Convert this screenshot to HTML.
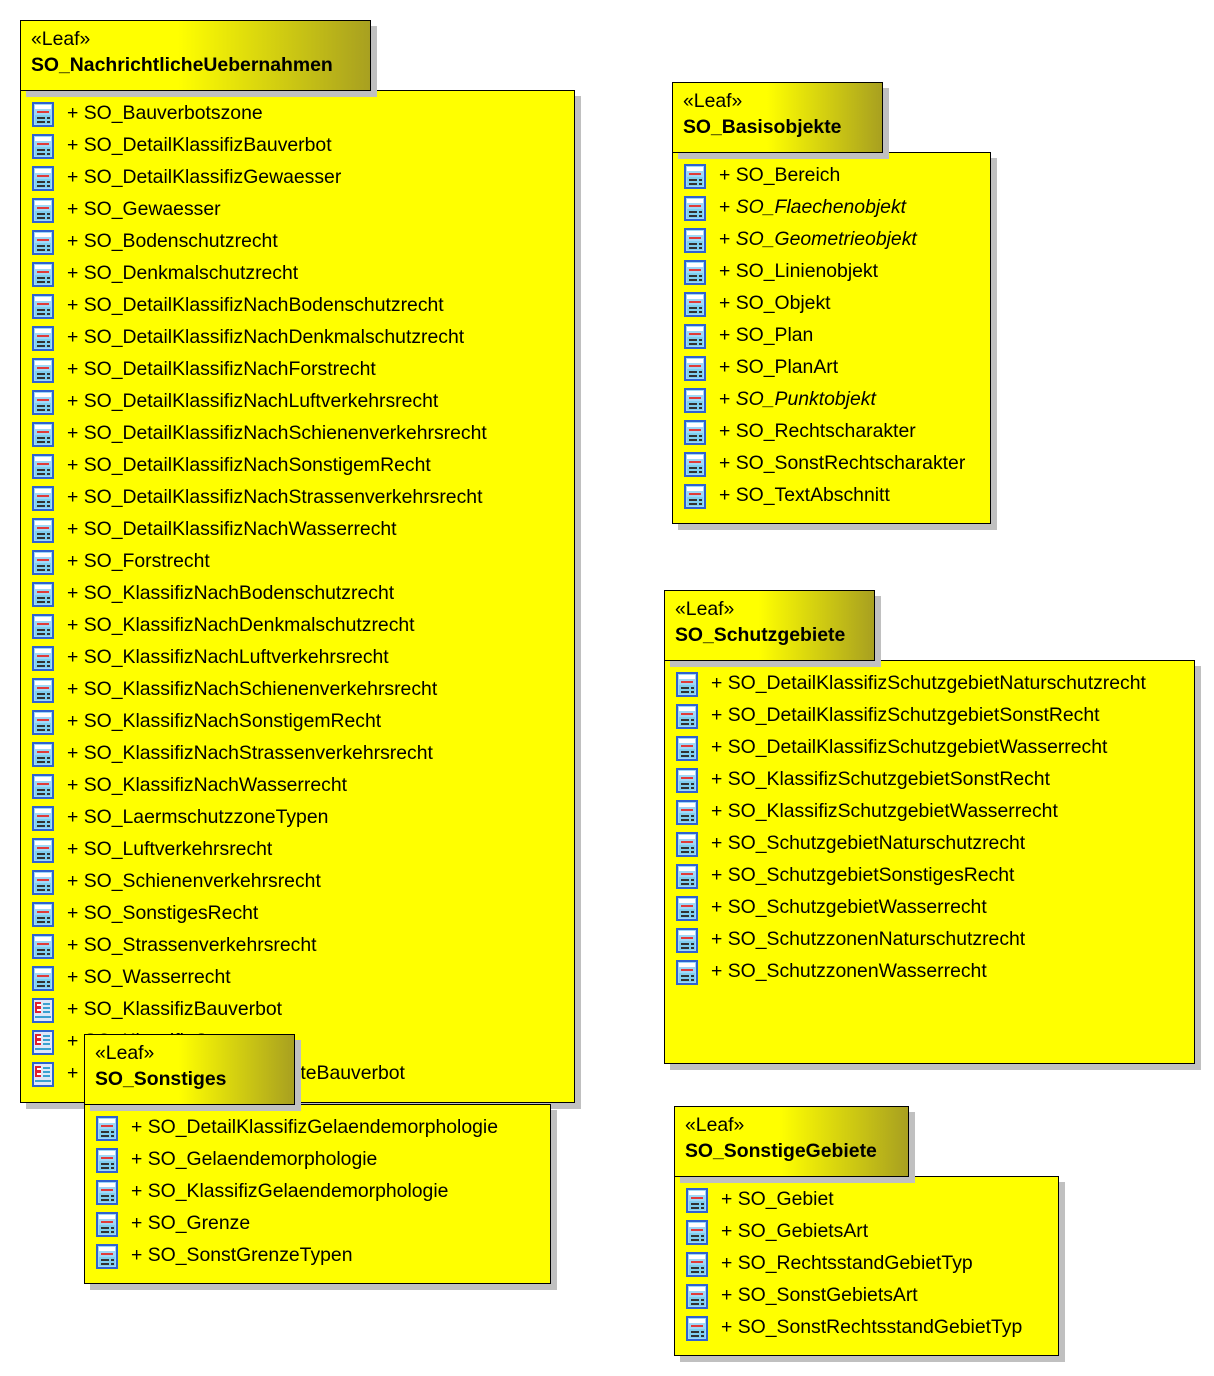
<!DOCTYPE html>
<html><head><meta charset="utf-8">
<style>
body{margin:0;width:1214px;height:1376px;background:#fff;position:relative;overflow:hidden;font-family:"Liberation Sans",Arial,sans-serif;}
.tab,.bd{position:absolute;box-sizing:border-box;border:1px solid #000;box-shadow:6px 6px 0 #c0c0c0;}
.tab{height:71px;background:linear-gradient(to right,#ffff00 0%,#ffff00 45%,#a8a020 100%);}
.bd{background:#ffff00;}
.st{position:absolute;left:10px;top:7px;font-size:19.4px;}
.nm{position:absolute;left:10px;top:33px;font-size:19.4px;font-weight:bold;}
.r{position:absolute;height:32px;left:0;right:0;font-size:19.4px;line-height:32px;white-space:nowrap;}
.r svg{position:absolute;left:11px;top:5px;}
.r span{position:absolute;left:46px;top:0;}
i{font-style:italic;}
</style></head><body>
<svg width="0" height="0" style="position:absolute">
<defs>
<g id="ic"><rect x="0" y="0" width="22" height="25" fill="#2f62d0"/><rect x="2" y="2" width="18" height="21" fill="#9fd8f7"/><rect x="3" y="3" width="16" height="4" fill="#fff"/><rect x="5" y="9" width="12" height="2" fill="#e03a3a"/><rect x="3" y="13" width="16" height="9" fill="#7fd0f0"/><rect x="5" y="15" width="8" height="2" fill="#333"/><rect x="15" y="15" width="3" height="2" fill="#333"/><rect x="5" y="19" width="8" height="2" fill="#333"/><rect x="15" y="19" width="3" height="2" fill="#333"/></g>
<g id="ie"><rect x="0" y="0" width="22" height="25" fill="#2f62d0"/><rect x="2" y="2" width="18" height="21" fill="#dfe8f7"/><rect x="3" y="4" width="6" height="11" fill="#e02030"/><rect x="5" y="6" width="4" height="2" fill="#fff"/><rect x="5" y="11" width="4" height="2" fill="#fff"/><rect x="11" y="5" width="7" height="2" fill="#3aa0d0"/><rect x="11" y="9" width="7" height="2" fill="#3aa0d0"/><rect x="11" y="13" width="7" height="2" fill="#3aa0d0"/><rect x="3" y="18" width="16" height="2" fill="#3aa0d0"/></g>
</defs></svg>

<!-- Package 1 -->
<div class="bd" style="left:20px;top:90px;width:555px;height:1013px;">
<div class="r" style="top:6px"><svg width="22" height="25"><use href="#ic"/></svg><span>+ SO_Bauverbotszone</span></div>
<div class="r" style="top:38px"><svg width="22" height="25"><use href="#ic"/></svg><span>+ SO_DetailKlassifizBauverbot</span></div>
<div class="r" style="top:70px"><svg width="22" height="25"><use href="#ic"/></svg><span>+ SO_DetailKlassifizGewaesser</span></div>
<div class="r" style="top:102px"><svg width="22" height="25"><use href="#ic"/></svg><span>+ SO_Gewaesser</span></div>
<div class="r" style="top:134px"><svg width="22" height="25"><use href="#ic"/></svg><span>+ SO_Bodenschutzrecht</span></div>
<div class="r" style="top:166px"><svg width="22" height="25"><use href="#ic"/></svg><span>+ SO_Denkmalschutzrecht</span></div>
<div class="r" style="top:198px"><svg width="22" height="25"><use href="#ic"/></svg><span>+ SO_DetailKlassifizNachBodenschutzrecht</span></div>
<div class="r" style="top:230px"><svg width="22" height="25"><use href="#ic"/></svg><span>+ SO_DetailKlassifizNachDenkmalschutzrecht</span></div>
<div class="r" style="top:262px"><svg width="22" height="25"><use href="#ic"/></svg><span>+ SO_DetailKlassifizNachForstrecht</span></div>
<div class="r" style="top:294px"><svg width="22" height="25"><use href="#ic"/></svg><span>+ SO_DetailKlassifizNachLuftverkehrsrecht</span></div>
<div class="r" style="top:326px"><svg width="22" height="25"><use href="#ic"/></svg><span>+ SO_DetailKlassifizNachSchienenverkehrsrecht</span></div>
<div class="r" style="top:358px"><svg width="22" height="25"><use href="#ic"/></svg><span>+ SO_DetailKlassifizNachSonstigemRecht</span></div>
<div class="r" style="top:390px"><svg width="22" height="25"><use href="#ic"/></svg><span>+ SO_DetailKlassifizNachStrassenverkehrsrecht</span></div>
<div class="r" style="top:422px"><svg width="22" height="25"><use href="#ic"/></svg><span>+ SO_DetailKlassifizNachWasserrecht</span></div>
<div class="r" style="top:454px"><svg width="22" height="25"><use href="#ic"/></svg><span>+ SO_Forstrecht</span></div>
<div class="r" style="top:486px"><svg width="22" height="25"><use href="#ic"/></svg><span>+ SO_KlassifizNachBodenschutzrecht</span></div>
<div class="r" style="top:518px"><svg width="22" height="25"><use href="#ic"/></svg><span>+ SO_KlassifizNachDenkmalschutzrecht</span></div>
<div class="r" style="top:550px"><svg width="22" height="25"><use href="#ic"/></svg><span>+ SO_KlassifizNachLuftverkehrsrecht</span></div>
<div class="r" style="top:582px"><svg width="22" height="25"><use href="#ic"/></svg><span>+ SO_KlassifizNachSchienenverkehrsrecht</span></div>
<div class="r" style="top:614px"><svg width="22" height="25"><use href="#ic"/></svg><span>+ SO_KlassifizNachSonstigemRecht</span></div>
<div class="r" style="top:646px"><svg width="22" height="25"><use href="#ic"/></svg><span>+ SO_KlassifizNachStrassenverkehrsrecht</span></div>
<div class="r" style="top:678px"><svg width="22" height="25"><use href="#ic"/></svg><span>+ SO_KlassifizNachWasserrecht</span></div>
<div class="r" style="top:710px"><svg width="22" height="25"><use href="#ic"/></svg><span>+ SO_LaermschutzzoneTypen</span></div>
<div class="r" style="top:742px"><svg width="22" height="25"><use href="#ic"/></svg><span>+ SO_Luftverkehrsrecht</span></div>
<div class="r" style="top:774px"><svg width="22" height="25"><use href="#ic"/></svg><span>+ SO_Schienenverkehrsrecht</span></div>
<div class="r" style="top:806px"><svg width="22" height="25"><use href="#ic"/></svg><span>+ SO_SonstigesRecht</span></div>
<div class="r" style="top:838px"><svg width="22" height="25"><use href="#ic"/></svg><span>+ SO_Strassenverkehrsrecht</span></div>
<div class="r" style="top:870px"><svg width="22" height="25"><use href="#ic"/></svg><span>+ SO_Wasserrecht</span></div>
<div class="r" style="top:902px"><svg width="22" height="25"><use href="#ie"/></svg><span>+ SO_KlassifizBauverbot</span></div>
<div class="r" style="top:934px"><svg width="22" height="25"><use href="#ie"/></svg><span>+ SO_KlassifizGewaesser</span></div>
<div class="r" style="top:966px"><svg width="22" height="25"><use href="#ie"/></svg><span>+ SO_KlassifizSchutzgebieteBauverbot</span></div>
</div>
<div class="tab" style="left:20px;top:20px;width:351px;"><div class="st">«Leaf»</div><div class="nm">SO_NachrichtlicheUebernahmen</div></div>

<!-- Package 2 -->
<div class="bd" style="left:672px;top:152px;width:319px;height:372px;">
<div class="r" style="top:6px"><svg width="22" height="25"><use href="#ic"/></svg><span>+ SO_Bereich</span></div>
<div class="r" style="top:38px"><svg width="22" height="25"><use href="#ic"/></svg><span>+ <i>SO_Flaechenobjekt</i></span></div>
<div class="r" style="top:70px"><svg width="22" height="25"><use href="#ic"/></svg><span>+ <i>SO_Geometrieobjekt</i></span></div>
<div class="r" style="top:102px"><svg width="22" height="25"><use href="#ic"/></svg><span>+ SO_Linienobjekt</span></div>
<div class="r" style="top:134px"><svg width="22" height="25"><use href="#ic"/></svg><span>+ SO_Objekt</span></div>
<div class="r" style="top:166px"><svg width="22" height="25"><use href="#ic"/></svg><span>+ SO_Plan</span></div>
<div class="r" style="top:198px"><svg width="22" height="25"><use href="#ic"/></svg><span>+ SO_PlanArt</span></div>
<div class="r" style="top:230px"><svg width="22" height="25"><use href="#ic"/></svg><span>+ <i>SO_Punktobjekt</i></span></div>
<div class="r" style="top:262px"><svg width="22" height="25"><use href="#ic"/></svg><span>+ SO_Rechtscharakter</span></div>
<div class="r" style="top:294px"><svg width="22" height="25"><use href="#ic"/></svg><span>+ SO_SonstRechtscharakter</span></div>
<div class="r" style="top:326px"><svg width="22" height="25"><use href="#ic"/></svg><span>+ SO_TextAbschnitt</span></div>
</div>
<div class="tab" style="left:672px;top:82px;width:211px;"><div class="st">«Leaf»</div><div class="nm">SO_Basisobjekte</div></div>

<!-- Package 3 -->
<div class="bd" style="left:664px;top:660px;width:531px;height:404px;">
<div class="r" style="top:6px"><svg width="22" height="25"><use href="#ic"/></svg><span>+ SO_DetailKlassifizSchutzgebietNaturschutzrecht</span></div>
<div class="r" style="top:38px"><svg width="22" height="25"><use href="#ic"/></svg><span>+ SO_DetailKlassifizSchutzgebietSonstRecht</span></div>
<div class="r" style="top:70px"><svg width="22" height="25"><use href="#ic"/></svg><span>+ SO_DetailKlassifizSchutzgebietWasserrecht</span></div>
<div class="r" style="top:102px"><svg width="22" height="25"><use href="#ic"/></svg><span>+ SO_KlassifizSchutzgebietSonstRecht</span></div>
<div class="r" style="top:134px"><svg width="22" height="25"><use href="#ic"/></svg><span>+ SO_KlassifizSchutzgebietWasserrecht</span></div>
<div class="r" style="top:166px"><svg width="22" height="25"><use href="#ic"/></svg><span>+ SO_SchutzgebietNaturschutzrecht</span></div>
<div class="r" style="top:198px"><svg width="22" height="25"><use href="#ic"/></svg><span>+ SO_SchutzgebietSonstigesRecht</span></div>
<div class="r" style="top:230px"><svg width="22" height="25"><use href="#ic"/></svg><span>+ SO_SchutzgebietWasserrecht</span></div>
<div class="r" style="top:262px"><svg width="22" height="25"><use href="#ic"/></svg><span>+ SO_SchutzzonenNaturschutzrecht</span></div>
<div class="r" style="top:294px"><svg width="22" height="25"><use href="#ic"/></svg><span>+ SO_SchutzzonenWasserrecht</span></div>
</div>
<div class="tab" style="left:664px;top:590px;width:211px;"><div class="st">«Leaf»</div><div class="nm">SO_Schutzgebiete</div></div>

<!-- Package 4 -->
<div class="bd" style="left:84px;top:1104px;width:467px;height:180px;">
<div class="r" style="top:6px"><svg width="22" height="25"><use href="#ic"/></svg><span>+ SO_DetailKlassifizGelaendemorphologie</span></div>
<div class="r" style="top:38px"><svg width="22" height="25"><use href="#ic"/></svg><span>+ SO_Gelaendemorphologie</span></div>
<div class="r" style="top:70px"><svg width="22" height="25"><use href="#ic"/></svg><span>+ SO_KlassifizGelaendemorphologie</span></div>
<div class="r" style="top:102px"><svg width="22" height="25"><use href="#ic"/></svg><span>+ SO_Grenze</span></div>
<div class="r" style="top:134px"><svg width="22" height="25"><use href="#ic"/></svg><span>+ SO_SonstGrenzeTypen</span></div>
</div>
<div class="tab" style="left:84px;top:1034px;width:211px;"><div class="st">«Leaf»</div><div class="nm">SO_Sonstiges</div></div>

<!-- Package 5 -->
<div class="bd" style="left:674px;top:1176px;width:385px;height:180px;">
<div class="r" style="top:6px"><svg width="22" height="25"><use href="#ic"/></svg><span>+ SO_Gebiet</span></div>
<div class="r" style="top:38px"><svg width="22" height="25"><use href="#ic"/></svg><span>+ SO_GebietsArt</span></div>
<div class="r" style="top:70px"><svg width="22" height="25"><use href="#ic"/></svg><span>+ SO_RechtsstandGebietTyp</span></div>
<div class="r" style="top:102px"><svg width="22" height="25"><use href="#ic"/></svg><span>+ SO_SonstGebietsArt</span></div>
<div class="r" style="top:134px"><svg width="22" height="25"><use href="#ic"/></svg><span>+ SO_SonstRechtsstandGebietTyp</span></div>
</div>
<div class="tab" style="left:674px;top:1106px;width:235px;"><div class="st">«Leaf»</div><div class="nm">SO_SonstigeGebiete</div></div>
</body></html>
